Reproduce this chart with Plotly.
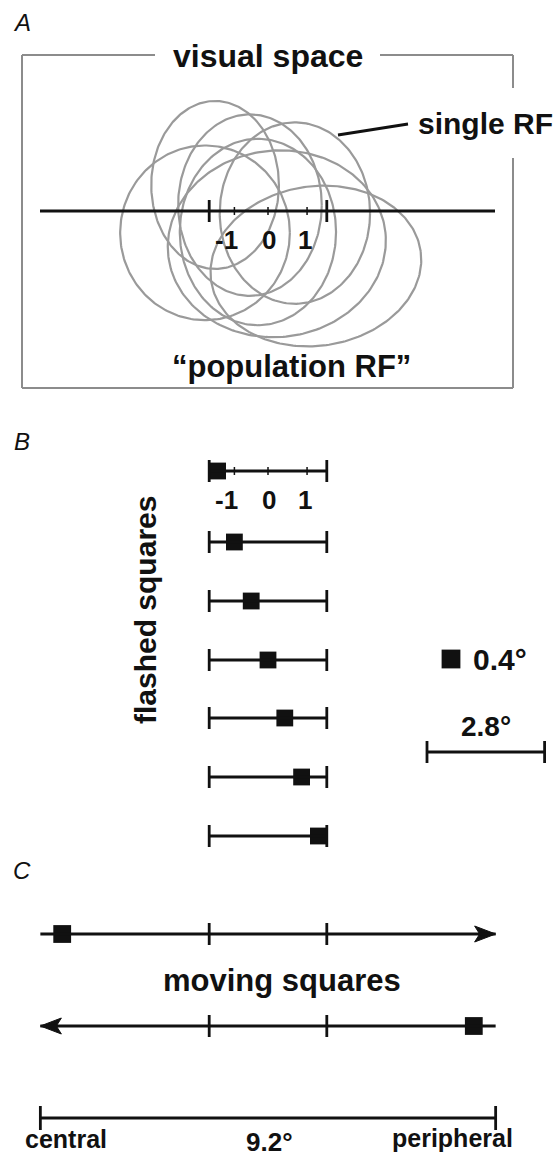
import numpy as np
import plotly.graph_objects as go

W, H = 559, 1157
PX_PER_DEG = 42          # schematic scale
X0 = 268                 # horizontal centre of the population RF (px)
A_AXIS_Y = 211           # horizontal meridian in panel A (px)

# ---------------- data ----------------
# Panel A: single-neuron receptive fields (degrees, relative to RF centre)
rf_cx = [-1.26, -1.50, -0.43, 0.64, 0.21, 1.14, -0.24]
rf_cy = [0.62, -0.52, 0.14, -0.05, -0.78, -1.31, -0.50]
rf_rx = [1.52, 2.02, 1.71, 1.79, 2.60, 2.52, 1.86]
rf_ry = [2.00, 2.08, 2.16, 2.16, 2.22, 1.90, 2.22]
rf_tilt = [0, 0, 0, 0, 6, 8, 0]

rf_halfwidth = 1.4                      # population RF edge (deg)
unit_ticks = [-0.8, 0.0, 0.93]          # normalised RF units (deg)
unit_labels = ["-1", "0", "1"]
unit_label_dx = [-8, 1, -2]

# Panel B: flashed squares
flash_pos = [-1.2, -0.8, -0.4, 0.0, 0.4, 0.8, 1.2]
square_deg = 0.4
rf_width_deg = 2.8

# Panel C: moving squares
moving_start = [-4.9, 4.9]
moving_dir = [1, -1]
path_extent = [-5.42, 5.42]
scale_bar_label = "9.2°"

# ---------------- helpers ----------------
def X(d):
    return X0 + PX_PER_DEG * np.asarray(d, dtype=float)

FONT = "Liberation Sans, Arial, Helvetica, sans-serif"
BLACK = "#111111"
GRAY = "#9a9a9a"
BOX = "#8c8c8c"
LW = 2.8

fig = go.Figure()
shapes = []
ann = []

def line(x0, y0, x1, y1, color=BLACK, width=LW):
    shapes.append(dict(type="line", xref="x", yref="y", x0=x0, y0=y0, x1=x1, y1=y1,
                       line=dict(color=color, width=width)))

def text(x, y, s, size, xanchor="center", yanchor="middle", bold=True, italic=False, angle=0):
    ann.append(dict(x=x, y=y, xref="x", yref="y", text=s, showarrow=False,
                    xanchor=xanchor, yanchor=yanchor, textangle=angle,
                    font=dict(family=FONT, size=size, color=BLACK,
                              weight="bold" if bold else "normal",
                              style="italic" if italic else "normal")))

# ---------------- Panel A ----------------
text(22, 22, "A", 24, bold=False, italic=True)
# frame of visual space
line(22, 55, 22, 388, BOX, 2)
line(22, 388, 513, 388, BOX, 2)
line(22, 55, 155, 55, BOX, 2)
line(380, 55, 513, 55, BOX, 2)
line(513, 55, 513, 88, BOX, 2)
line(513, 158, 513, 388, BOX, 2)
text(268, 56, "visual space", 32)

t = np.linspace(0, 2 * np.pi, 240)
for cx, cy, rx, ry, tl in zip(rf_cx, rf_cy, rf_rx, rf_ry, rf_tilt):
    a = np.deg2rad(tl)
    ex = cx + rx * np.cos(t) * np.cos(a) - ry * np.sin(t) * np.sin(a)
    ey = cy + rx * np.cos(t) * np.sin(a) + ry * np.sin(t) * np.cos(a)
    fig.add_trace(go.Scatter(x=X(ex), y=A_AXIS_Y - PX_PER_DEG * ey, mode="lines",
                             line=dict(color=GRAY, width=2.2), hoverinfo="skip"))

line(40, A_AXIS_Y, 495, A_AXIS_Y)
for e in (-rf_halfwidth, rf_halfwidth):
    line(X(e), A_AXIS_Y - 11, X(e), A_AXIS_Y + 11)
for tk in unit_ticks:
    line(X(tk), A_AXIS_Y - 4, X(tk), A_AXIS_Y + 4, BLACK, 1.5)
for tk, lb, dx in zip(unit_ticks, unit_labels, unit_label_dx):
    text(X(tk) + dx, A_AXIS_Y + 29, lb, 26)

line(338, 135, 408, 124)
text(485, 123, "single RF", 30)
text(291, 366, "\u201cpopulation RF\u201d", 31)

# ---------------- Panel B ----------------
text(22, 441, "B", 24, bold=False, italic=True)
row_y = [471, 542, 601, 660, 718, 777, 836]
sq_px = square_deg * PX_PER_DEG
for p, y in zip(flash_pos, row_y):
    line(X(-rf_halfwidth), y, X(rf_halfwidth), y)
    for e in (-rf_halfwidth, rf_halfwidth):
        line(X(e), y - 11, X(e), y + 11)
fig.add_trace(go.Scatter(x=X(flash_pos), y=row_y, mode="markers",
                         marker=dict(symbol="square", size=sq_px, color=BLACK,
                                     line=dict(width=0)), hoverinfo="skip"))
for tk in unit_ticks:
    line(X(tk), row_y[0] - 4, X(tk), row_y[0] + 4, BLACK, 1.5)
for tk, lb, dx in zip(unit_ticks, unit_labels, unit_label_dx):
    text(X(tk) + dx, row_y[0] + 29, lb, 26)

text(145, 610, "flashed squares", 30, angle=-90)

# legend square and scale bar
fig.add_trace(go.Scatter(x=[451], y=[659], mode="markers",
                         marker=dict(symbol="square", size=sq_px + 2, color=BLACK,
                                     line=dict(width=0)), hoverinfo="skip"))
text(471, 659, "0.4°", 30, xanchor="left")
sb_x0 = 427
sb_x1 = sb_x0 + rf_width_deg * PX_PER_DEG
sb_y = 752
line(sb_x0, sb_y, sb_x1, sb_y)
line(sb_x0, sb_y - 11, sb_x0, sb_y + 11)
line(sb_x1, sb_y - 11, sb_x1, sb_y + 11)
text((sb_x0 + sb_x1) / 2, sb_y - 26, "2.8°", 28)

# ---------------- Panel C ----------------
text(22, 870, "C", 24, bold=False, italic=True)
path_y = [934, 1026]
for s, d, y in zip(moving_start, moving_dir, path_y):
    x_left, x_right = X(path_extent[0]), X(path_extent[1])
    line(x_left, y, x_right, y)
    for e in (-rf_halfwidth, rf_halfwidth):
        line(X(e), y - 11, X(e), y + 11)
    tip = x_right if d > 0 else x_left
    hx = [tip, tip - d * 21, tip - d * 16, tip - d * 21, tip]
    hy = [y, y - 8, y, y + 8, y]
    fig.add_trace(go.Scatter(x=hx, y=hy, mode="lines", fill="toself",
                             fillcolor=BLACK, line=dict(color=BLACK, width=1),
                             hoverinfo="skip"))
fig.add_trace(go.Scatter(x=X(moving_start), y=path_y, mode="markers",
                         marker=dict(symbol="square", size=sq_px + 1, color=BLACK,
                                     line=dict(width=0)), hoverinfo="skip"))
text(282, 980, "moving squares", 31)

bar_y = 1118
line(X(path_extent[0]), bar_y, X(path_extent[1]), bar_y)
line(X(path_extent[0]), bar_y - 12, X(path_extent[0]), bar_y + 12)
line(X(path_extent[1]), bar_y - 12, X(path_extent[1]), bar_y + 12)
text(23, 1139, "central", 25, xanchor="left")
text(269, 1142, scale_bar_label, 26)
text(515, 1138, "peripheral", 25, xanchor="right")

fig.update_layout(
    width=W, height=H, margin=dict(l=0, r=0, t=0, b=0),
    paper_bgcolor="white", plot_bgcolor="white", showlegend=False,
    shapes=shapes, annotations=ann,
    xaxis=dict(range=[0, W], visible=False, fixedrange=True),
    yaxis=dict(range=[H, 0], visible=False, fixedrange=True),
)
fig.write_html("out.html")
